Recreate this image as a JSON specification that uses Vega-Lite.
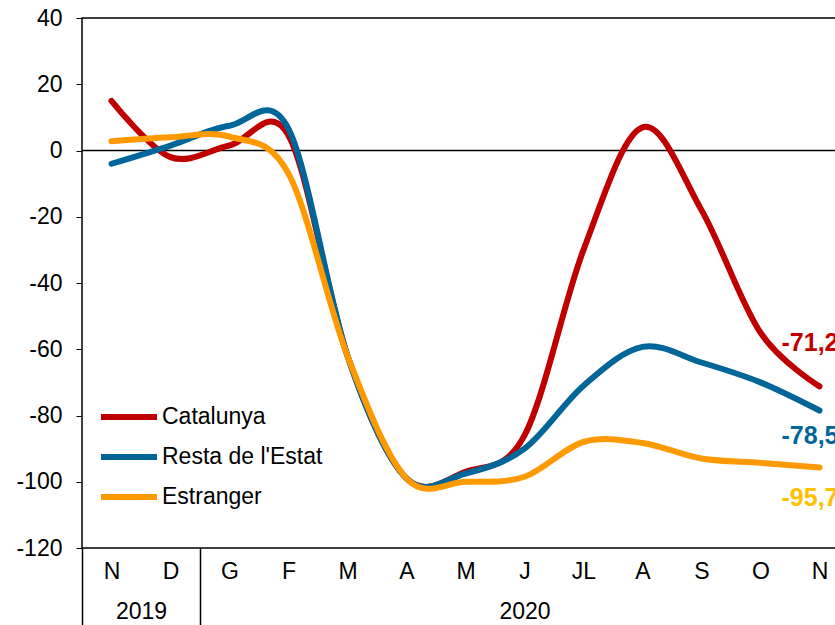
{
  "$schema": "https://vega.github.io/schema/vega-lite/v6.json",
  "width": 767,
  "height": 530,
  "autosize": {"type": "none"},
  "padding": {"left": 82, "top": 18, "right": -14, "bottom": 77},
  "config": {
    "locale": {"number": {"decimal": ",", "thousands": ".", "grouping": [3], "currency": ["", " €"], "minus": "-"}},
    "view": {"stroke": "black", "strokeWidth": 1.5},
    "font": "Liberation Sans",
    "axis": {"labelFont": "Liberation Sans", "labelFontSize": 23, "labelColor": "black", "domainColor": "black", "tickColor": "black", "grid": false, "title": null}
  },
  "datasets": {
    "series": [
      {"serie": "Catalunya", "periode": "2019-11", "valor": 15},
      {"serie": "Catalunya", "periode": "2019-12", "valor": -2},
      {"serie": "Catalunya", "periode": "2020-01", "valor": 1.5},
      {"serie": "Catalunya", "periode": "2020-02", "valor": 4.5},
      {"serie": "Catalunya", "periode": "2020-03", "valor": -62},
      {"serie": "Catalunya", "periode": "2020-04", "valor": -99},
      {"serie": "Catalunya", "periode": "2020-05", "valor": -97},
      {"serie": "Catalunya", "periode": "2020-06", "valor": -86},
      {"serie": "Catalunya", "periode": "2020-07", "valor": -30},
      {"serie": "Catalunya", "periode": "2020-08", "valor": 7},
      {"serie": "Catalunya", "periode": "2020-09", "valor": -18},
      {"serie": "Catalunya", "periode": "2020-10", "valor": -55},
      {"serie": "Catalunya", "periode": "2020-11", "valor": -71.2},
      {"serie": "Resta de l'Estat", "periode": "2019-11", "valor": -4},
      {"serie": "Resta de l'Estat", "periode": "2019-12", "valor": 1.5},
      {"serie": "Resta de l'Estat", "periode": "2020-01", "valor": 7.5},
      {"serie": "Resta de l'Estat", "periode": "2020-02", "valor": 6.5},
      {"serie": "Resta de l'Estat", "periode": "2020-03", "valor": -62},
      {"serie": "Resta de l'Estat", "periode": "2020-04", "valor": -99},
      {"serie": "Resta de l'Estat", "periode": "2020-05", "valor": -97.5},
      {"serie": "Resta de l'Estat", "periode": "2020-06", "valor": -90},
      {"serie": "Resta de l'Estat", "periode": "2020-07", "valor": -71},
      {"serie": "Resta de l'Estat", "periode": "2020-08", "valor": -59.3},
      {"serie": "Resta de l'Estat", "periode": "2020-09", "valor": -64},
      {"serie": "Resta de l'Estat", "periode": "2020-10", "valor": -70},
      {"serie": "Resta de l'Estat", "periode": "2020-11", "valor": -78.5},
      {"serie": "Estranger", "periode": "2019-11", "valor": 2.8},
      {"serie": "Estranger", "periode": "2019-12", "valor": 4},
      {"serie": "Estranger", "periode": "2020-01", "valor": 4.2},
      {"serie": "Estranger", "periode": "2020-02", "valor": -7},
      {"serie": "Estranger", "periode": "2020-03", "valor": -62},
      {"serie": "Estranger", "periode": "2020-04", "valor": -99},
      {"serie": "Estranger", "periode": "2020-05", "valor": -100},
      {"serie": "Estranger", "periode": "2020-06", "valor": -98.5},
      {"serie": "Estranger", "periode": "2020-07", "valor": -88},
      {"serie": "Estranger", "periode": "2020-08", "valor": -88.3},
      {"serie": "Estranger", "periode": "2020-09", "valor": -93},
      {"serie": "Estranger", "periode": "2020-10", "valor": -94.3},
      {"serie": "Estranger", "periode": "2020-11", "valor": -95.7}
    ],
    "zero": [{"inici": 0, "fi": 13}]
  },
  "layer": [
    {
      "data": {"name": "zero"},
      "mark": {"type": "rule", "color": "black", "strokeWidth": 1.5},
      "encoding": {
        "x": {
          "field": "inici", "type": "quantitative",
          "scale": {"domain": [0, 13], "nice": false, "zero": false},
          "axis": {
            "orient": "bottom",
            "values": [0, 1, 2, 7.5, 13],
            "labelExpr": "datum.value == 1 ? '2019' : (datum.value == 7.5 ? '2020' : '')",
            "tickSize": 77,
            "tickWidth": 1.5,
            "tickOpacity": {"condition": {"test": "datum.value == 1 || datum.value == 7.5", "value": 0}, "value": 1},
            "domain": false,
            "labelPadding": -14,
            "labelBaseline": "middle",
            "labelFlush": false,
            "labelOverlap": false
          }
        },
        "x2": {"field": "fi"},
        "y": {"datum": 0, "type": "quantitative"}
      }
    },
    {
      "data": {"name": "series"},
      "layer": [
        {
          "mark": {"type": "line", "interpolate": "cardinal", "strokeWidth": 6, "strokeCap": "round"},
          "encoding": {
            "x": {
              "field": "periode", "type": "ordinal",
              "scale": {"type": "point", "padding": 0.5},
              "axis": {
                "orient": "bottom",
                "labelExpr": "['G','F','M','A','M','J','JL','A','S','O','N','D'][toNumber(substring(datum.value,5,7))-1]",
                "ticks": false, "domain": false, "labelPadding": 12, "labelAngle": 0
              }
            },
            "y": {
              "field": "valor", "type": "quantitative",
              "scale": {"domain": [-120, 40], "nice": false},
              "axis": {"values": [-120, -100, -80, -60, -40, -20, 0, 20, 40], "tickSize": 6, "labelPadding": 14, "domain": false}
            },
            "color": {
              "field": "serie", "type": "nominal",
              "scale": {"domain": ["Catalunya", "Resta de l'Estat", "Estranger"], "range": ["#C00000", "#006699", "#FF9900"]},
              "legend": {
                "orient": "none", "legendX": 16, "legendY": 379, "title": null,
                "symbolType": "stroke", "symbolSize": 3136, "symbolStrokeWidth": 6,
                "labelFontSize": 23, "labelFont": "Liberation Sans", "labelColor": "black", "labelLimit": 0,
                "clipHeight": 40, "rowPadding": 0, "labelOffset": 2
              }
            }
          }
        },
        {
          "transform": [{"filter": "datum.serie == 'Catalunya' && datum.periode == '2020-11'"}],
          "mark": {"type": "text", "align": "left", "baseline": "middle", "dx": -38, "dy": -43, "fontSize": 25, "fontWeight": "bold", "color": "#C00000", "font": "Liberation Sans"},
          "encoding": {
            "x": {"field": "periode", "type": "ordinal"},
            "y": {"field": "valor", "type": "quantitative"},
            "text": {"field": "valor", "type": "quantitative", "format": ".1f"}
          }
        },
        {
          "transform": [{"filter": "datum.serie == \"Resta de l'Estat\" && datum.periode == '2020-11'"}],
          "mark": {"type": "text", "align": "left", "baseline": "middle", "dx": -38, "dy": 25, "fontSize": 25, "fontWeight": "bold", "color": "#006699", "font": "Liberation Sans"},
          "encoding": {
            "x": {"field": "periode", "type": "ordinal"},
            "y": {"field": "valor", "type": "quantitative"},
            "text": {"field": "valor", "type": "quantitative", "format": ".1f"}
          }
        },
        {
          "transform": [{"filter": "datum.serie == 'Estranger' && datum.periode == '2020-11'"}],
          "mark": {"type": "text", "align": "left", "baseline": "middle", "dx": -38, "dy": 30, "fontSize": 25, "fontWeight": "bold", "color": "#FFC000", "font": "Liberation Sans"},
          "encoding": {
            "x": {"field": "periode", "type": "ordinal"},
            "y": {"field": "valor", "type": "quantitative"},
            "text": {"field": "valor", "type": "quantitative", "format": ".1f"}
          }
        }
      ]
    }
  ],
  "resolve": {"scale": {"x": "independent"}, "axis": {"x": "independent"}}
}
